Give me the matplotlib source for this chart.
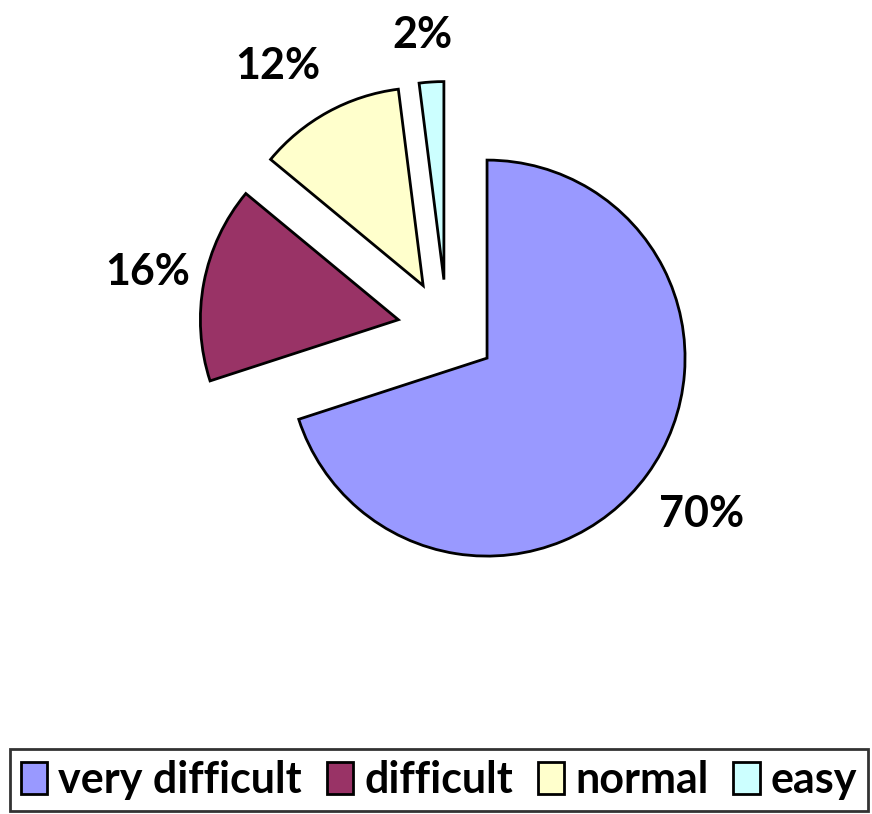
import numpy as np
import matplotlib.pyplot as plt

labels = ["very difficult", "difficult", "normal", "easy"]
values = [70, 16, 12, 2]
colors = ["#9999FF", "#993366", "#FFFFCC", "#CCFFFF"]
explode_frac = [0.25, 0.25, 0.25, 0.25]
# where each % label sits: distance (in radii) from the wedge tip, and angle nudge
label_dist = [1.34, 1.29, 1.33, 1.24]
label_nudge = [0, 0, 4.7, 1.4]

plt.rcParams['font.family'] = ['Lato', 'DejaVu Sans']

R = 198
fig = plt.figure(figsize=(8.72, 8.14), dpi=100)
ax = fig.add_axes([0, 0, 1, 1])

wedges, texts = ax.pie(values, explode=[e * R for e in explode_frac], colors=colors,
                       startangle=90, counterclock=False, center=(447, 485), radius=R,
                       labels=[f"{v}%" for v in values],
                       wedgeprops=dict(edgecolor="black", linewidth=2),
                       textprops=dict(fontsize=31, fontweight="bold"))
for w, t, d, n in zip(wedges, texts, label_dist, label_nudge):
    mid = np.deg2rad((w.theta1 + w.theta2) / 2 + n)
    cx, cy = w.center
    t.set_position((cx + d * R * np.cos(mid), cy + d * R * np.sin(mid)))
    t.set_ha("center")
    t.set_va("center")
ax.set_xlim(0, 872)
ax.set_ylim(0, 814)
ax.set_aspect("equal")
ax.axis("off")

leg = ax.legend(wedges, labels, loc="lower left", bbox_to_anchor=(10/872, 3/814, 858/872, 66/814),
                mode="expand", ncol=4, frameon=True, fancybox=False,
                prop=dict(size=31, weight="bold"), handlelength=0.62, handleheight=0.75,
                handletextpad=0.25, columnspacing=0.4, borderpad=0.25, borderaxespad=0)
leg.get_frame().set_edgecolor("black")
leg.get_frame().set_linewidth(2)

fig.savefig("out.png", dpi=100)
